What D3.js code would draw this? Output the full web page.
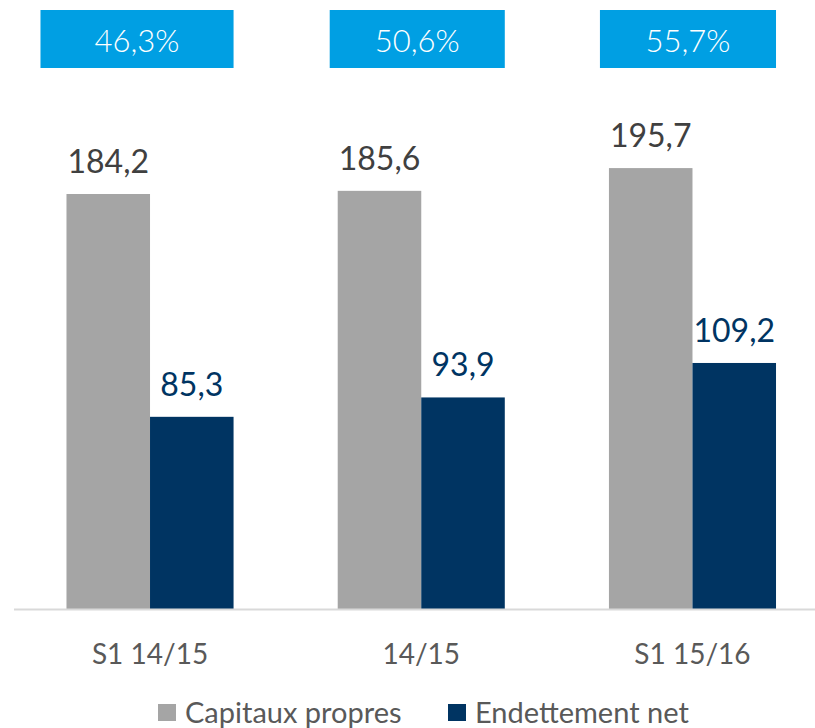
<!DOCTYPE html>
<html><head><meta charset="utf-8">
<script src="https://cdn.jsdelivr.net/npm/d3@7"></script>
<style>body{margin:0;background:#fff;}svg{display:block;}</style>
</head><body><svg id="c" width="815" height="728"></svg>
<script>
const categories = ["S1 14/15", "14/15", "S1 15/16"];
const seriesNames = ["Capitaux propres", "Endettement net"];
const capitaux = [184.2, 185.6, 195.7];
const endettement = [85.3, 93.9, 109.2];
const ratios = ["46,3%", "50,6%", "55,7%"];
const colors = ["#a5a5a5", "#003462"];
const labelColors = ["#404040", "#003462"];

// layout constants (not data)
const boxLeftPad = [26, 8, 9];

const svg = d3.select("#c");
const font = "Lato, 'Open Sans', sans-serif";
const fmt = v => v.toFixed(1).replace(".", ",");

const x = d3.scaleBand().domain(categories).range([14, 828.5]).paddingInner(0.384).paddingOuter(0.1935);
const xs = d3.scaleBand().domain(seriesNames).range([0, x.bandwidth()]).padding(0);
const y = d3.scaleLinear().domain([0, 200]).range([609, 609 - 200 * 2.253]);

const series = [capitaux, endettement];

// bars
categories.forEach((c, i) => {
  const g = svg.append("g").attr("transform", `translate(${x(c)},0)`);
  seriesNames.forEach((s, j) => {
    const v = series[j][i];
    g.append("rect").attr("x", xs(s)).attr("y", y(v)).attr("width", xs.bandwidth()).attr("height", y(0) - y(v)).attr("fill", colors[j]);
    g.append("text").attr("x", xs(s) + xs.bandwidth() / 2).attr("y", y(v) - 21)
      .attr("text-anchor", "middle").attr("font-family", font).attr("font-size", 32)
      .attr("fill", labelColors[j]).text(fmt(v));
  });
});

// axis baseline
svg.append("line").attr("x1", 14).attr("x2", 815).attr("y1", y(0) + 0.5).attr("y2", y(0) + 0.5)
  .attr("stroke", "#d9d9d9").attr("stroke-width", 2);

// category labels
const xAxis = d3.axisBottom(x).tickSize(0).tickPadding(0);
const ax = svg.append("g").attr("transform", `translate(0,${y(0)})`).call(xAxis);
ax.select(".domain").remove();
ax.selectAll("text").attr("font-family", font).attr("font-size", 28).attr("fill", "#595959")
  .attr("dy", null).attr("y", 55);

// ratio boxes
categories.forEach((c, i) => {
  const x0 = x(c) - boxLeftPad[i];
  const x1 = x(c) + x.bandwidth();
  svg.append("rect").attr("x", x0).attr("y", 10).attr("width", x1 - x0).attr("height", 58).attr("fill", "#009fe3");
  svg.append("text").attr("x", (x0 + x1) / 2).attr("y", 52).attr("text-anchor", "middle")
    .attr("font-family", font).attr("font-weight", 300).attr("font-size", 31).attr("fill", "#fff").text(ratios[i]);
});

// legend
const legX = [158, 448];
seriesNames.forEach((s, j) => {
  svg.append("rect").attr("x", legX[j]).attr("y", 704).attr("width", 18).attr("height", 17).attr("fill", colors[j]);
  svg.append("text").attr("x", legX[j] + 27).attr("y", 723).attr("font-family", font).attr("font-size", 29)
    .attr("fill", "#595959").text(s);
});
</script></body></html>
